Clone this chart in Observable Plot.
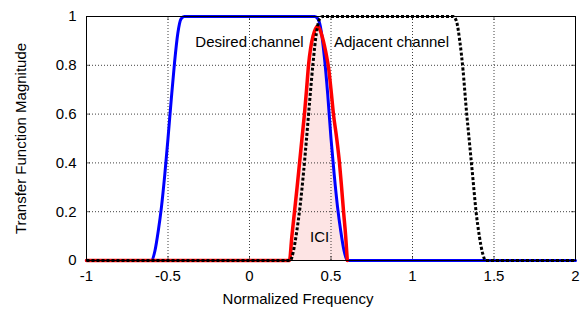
<!DOCTYPE html>
<html>
<head>
<meta charset="utf-8">
<script src="https://cdn.jsdelivr.net/npm/d3@7"></script>
<script src="https://cdn.jsdelivr.net/npm/@observablehq/plot@0.6"></script>
<style>
  html, body { margin: 0; padding: 0; background: #fff; }
  #chart svg { display: block; }
</style>
</head>
<body>
<div id="chart"></div>
<script>
// Tick labels
const xTicks = [-1, -0.5, 0, 0.5, 1, 1.5, 2];
const yTicks = [0, 0.2, 0.4, 0.6, 0.8, 1];
const xTitle = "Normalized Frequency";
const yTitle = "Transfer Function Magnitude";

// Desired channel (blue)
const desiredX = [-1, -0.6, -0.58, -0.56, -0.54, -0.52, -0.5, -0.48, -0.46, -0.44, -0.42, -0.4,
                  0.4, 0.42, 0.44, 0.46, 0.48, 0.5, 0.52, 0.54, 0.56, 0.58, 0.6, 2];
const desiredY = [0, 0, 0.04, 0.12, 0.22, 0.35, 0.5, 0.66, 0.81, 0.93, 0.99, 1,
                  1, 0.99, 0.94, 0.83, 0.68, 0.5, 0.35, 0.22, 0.12, 0.04, 0, 0];

// Adjacent channel (black dotted)
const adjacentX = [-1, 0.25, 0.27, 0.29, 0.31, 0.33, 0.35, 0.37, 0.39, 0.41, 0.43, 0.45,
                   1.25, 1.27, 1.29, 1.31, 1.33, 1.35, 1.37, 1.39, 1.41, 1.43, 1.45, 2];
const adjacentY = [0, 0, 0.04, 0.12, 0.22, 0.35, 0.5, 0.66, 0.81, 0.93, 0.99, 1,
                   1, 0.98, 0.9, 0.78, 0.62, 0.48, 0.34, 0.2, 0.1, 0.03, 0, 0];

// Filter product (red)
const redX = [-1, 0.245, 0.26, 0.276, 0.292, 0.307, 0.322, 0.337, 0.35, 0.362, 0.375, 0.39, 0.405, 0.417,
              0.43, 0.445, 0.46, 0.475, 0.485, 0.5, 0.515, 0.535, 0.552, 0.565, 0.577, 0.59, 0.6];
const redY = [0, 0, 0.1, 0.2, 0.3, 0.4, 0.5, 0.6, 0.7, 0.8, 0.87, 0.92, 0.95, 0.96,
              0.95, 0.92, 0.88, 0.83, 0.79, 0.7, 0.6, 0.5, 0.4, 0.3, 0.2, 0.1, 0];

// Annotations
const labelText = ["Desired channel", "Adjacent channel", "ICI"];
const labelX = [0, 0.871, 0.43];
const labelY = [0.894, 0.894, 0.094];

const desired = desiredX.map((x, i) => ({x, y: desiredY[i]}));
const adjacent = adjacentX.map((x, i) => ({x, y: adjacentY[i]}));
const red = redX.map((x, i) => ({x, y: redY[i]}));
// ICI area: under red on the rising side, under blue on the falling side
const ici = red.filter(d => d.x >= 0.245 && d.x <= 0.445)
  .concat(desired.filter(d => d.x >= 0.46 && d.x <= 0.6));
const labels = labelText.map((t, i) => ({t, x: labelX[i], y: labelY[i]}));

const gridXv = xTicks.slice(1, -1);
const gridYv = yTicks.slice(1, -1);

const chart = Plot.plot({
  width: 584,
  height: 309,
  marginLeft: 86,
  marginRight: 9,
  marginTop: 16,
  marginBottom: 49,
  style: {fontFamily: "'Liberation Sans', Arial, sans-serif", fontSize: "15px", color: "#000", background: "#fff"},
  x: {domain: [-1, 2]},
  y: {domain: [0, 1]},
  marks: [
    Plot.areaY(ici, {x: "x", y: "y", fill: "#fde4e4", curve: "monotone-x"}),
    Plot.gridX(gridXv, {stroke: "#000", strokeOpacity: 0.75, strokeDasharray: "1,2", strokeWidth: 1}),
    Plot.gridY(gridYv, {stroke: "#000", strokeOpacity: 0.75, strokeDasharray: "1,2", strokeWidth: 1}),
    Plot.tickX(xTicks, {x: d => d, stroke: "#000", strokeOpacity: 0.6, insetTop: 240}),
    Plot.tickX(xTicks, {x: d => d, stroke: "#000", strokeOpacity: 0.6, insetBottom: 240}),
    Plot.tickY(yTicks, {y: d => d, stroke: "#000", strokeOpacity: 0.6, insetRight: 485}),
    Plot.tickY(yTicks, {y: d => d, stroke: "#000", strokeOpacity: 0.6, insetLeft: 485}),
    Plot.line(desired, {x: "x", y: "y", stroke: "#0000ff", strokeWidth: 3, curve: "monotone-x"}),
    Plot.line(red, {x: "x", y: "y", stroke: "#ff0000", strokeWidth: 3.5, curve: "monotone-x"}),
    Plot.line(adjacent, {x: "x", y: "y", stroke: "#000", strokeWidth: 3, strokeDasharray: "3,2", strokeLinecap: "butt", strokeLinejoin: "miter", curve: "monotone-x"}),
    Plot.text(labels, {x: "x", y: "y", text: "t", fill: "#000", fontSize: 15}),
    Plot.frame({stroke: "#000", strokeWidth: 1}),
    Plot.axisX({ticks: xTicks, tickSize: 0, tickPadding: 10, tickFormat: d => String(d), label: null}),
    Plot.axisY({ticks: yTicks, tickSize: 0, tickPadding: 10, tickFormat: d => String(d), label: null}),
    Plot.text([xTitle], {text: d => d, frameAnchor: "bottom", dx: -33, dy: 43, fontSize: 15, fill: "#000"}),
    Plot.text([yTitle], {text: d => d, frameAnchor: "left", textAnchor: "middle", rotate: -90, dx: -65, fontSize: 15, fill: "#000"})
  ]
});
document.getElementById("chart").appendChild(chart);
</script>
</body>
</html>
